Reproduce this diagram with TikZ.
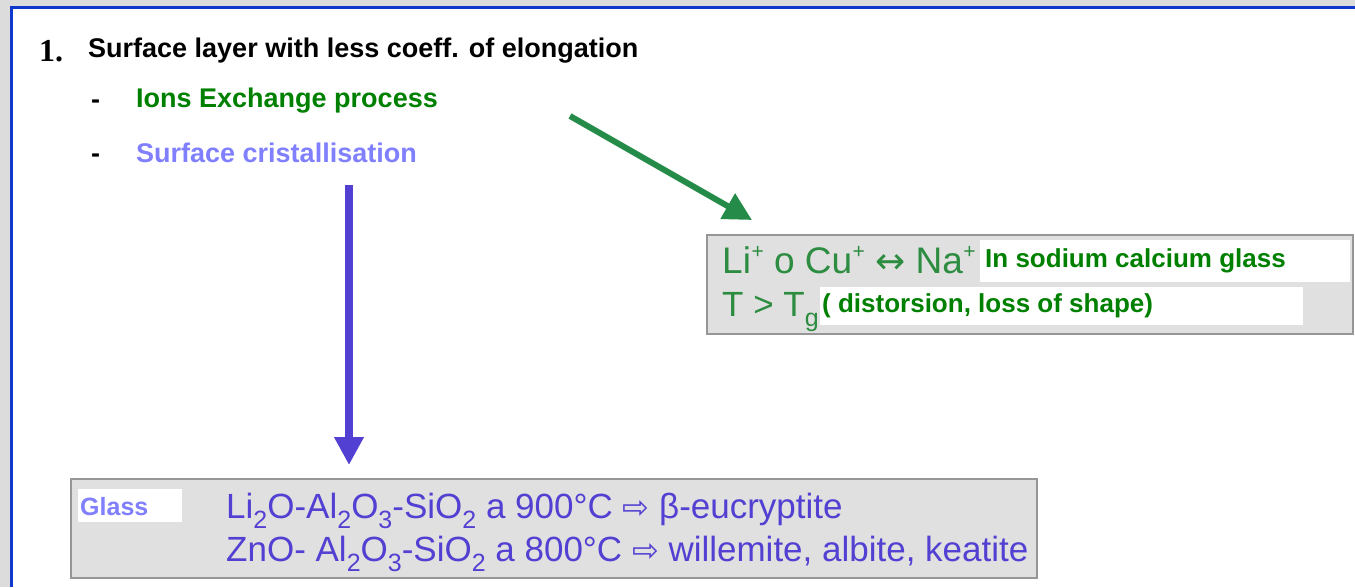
\documentclass[tikz,border=0pt]{standalone}
\usepackage{fontspec}
\setmainfont{Liberation Sans}
\newfontfamily\numfont{Liberation Serif}
\newfontfamily\symfont{DejaVu Sans}
\usetikzlibrary{arrows.meta}
\definecolor{pagegray}{RGB}{220,220,220}
\definecolor{frameblue}{RGB}{16,56,204}
\definecolor{boxgray}{RGB}{224,224,224}
\definecolor{boxline}{RGB}{150,150,150}
\definecolor{ionsgreen}{RGB}{0,128,0}
\definecolor{ionsarrow}{RGB}{36,140,72}
\definecolor{ionstext}{RGB}{44,140,64}
\definecolor{crystlight}{RGB}{128,128,255}
\definecolor{crystdark}{RGB}{82,64,210}
\newcommand\lowi[1]{\raisebox{-.3em}{\fontsize{25}{25}\selectfont #1}}
\newcommand\upi[1]{\kern.5pt\raisebox{.38em}{\fontsize{21}{21}\selectfont #1}}
\begin{document}
\begin{tikzpicture}[x=1pt,y=-1pt,
    txt/.style={anchor=base west,inner sep=0pt},
    head/.style={txt,font=\fontsize{27}{32}\selectfont\bfseries},
    big/.style={txt,font=\fontsize{37}{42}\selectfont},
    box/.style={draw=boxline,fill=boxgray,line width=1.5pt,anchor=north west,inner sep=0pt},
    hilite/.style={fill=white,anchor=north west,inner sep=0pt},
    arrow/.style={-{Triangle[length=28pt,width=28pt]}}]
  \useasboundingbox (0,0) rectangle (1355,587);
  \fill[pagegray] (0,0) rectangle (1355,587);
  \fill[white] (11,7) rectangle (1355,587);
  \draw[frameblue,line width=3pt] (11,587) -- (11,7) -- (1355,7);
  % heading and list
  \node[txt,font=\fontsize{32}{36}\selectfont\numfont\bfseries] (num) at (39,61) {1.};
  \node[head] (title) at (88,57) {Surface layer with less coeff. of elongation};
  \node[head] (dash1) at (91,108) {-};
  \node[head,text=ionsgreen] (ions) at (136,107) {Ions Exchange process};
  \node[head] (dash2) at (91,162) {-};
  \node[head,text=crystlight] (cryst) at (136,162) {Surface cristallisation};
  % ion exchange box
  \node[box,minimum width=646pt,minimum height=99pt] (ionbox) at (706,234) {};
  \node[hilite,minimum width=370pt,minimum height=42pt] (sodiumbg) at (980,240) {};
  \node[hilite,minimum width=483pt,minimum height=38pt] (shapebg) at (820,287) {};
  \node[big,text=ionstext] (exch) at (722,273)
    {Li\upi{+} o Cu\upi{+} {\symfont\fontsize{36}{36}\selectfont ↔} Na\upi{+}};
  \node[head,font=\fontsize{26}{30}\selectfont\bfseries,text=ionsgreen] (sodium) at (985,267)
    {In sodium calcium glass};
  \node[big,font=\fontsize{35}{40}\selectfont,text=ionstext] (temp) at (722,316) {T > T\lowi{g}};
  \node[head,font=\fontsize{26}{30}\selectfont\bfseries,text=ionsgreen] (shape) at (822,312)
    {( distorsion, loss of shape)};
  % crystallisation box
  \node[box,minimum width=966pt,minimum height=99pt] (glassbox) at (70,478) {};
  \node[hilite,minimum width=104pt,minimum height=33pt] (glassbg) at (78,489) {};
  \node[head,font=\fontsize{25}{30}\selectfont\bfseries,text=crystlight] (glass) at (80,515) {Glass};
  \node[txt,font=\fontsize{35}{40}\selectfont,text=crystdark] (euc) at (226,518)
    {Li\lowi{2}O-Al\lowi{2}O\lowi{3}-SiO\lowi{2} a 900°C {\symfont\fontsize{32}{32}\selectfont ⇨} β-eucryptite};
  \node[txt,font=\fontsize{35}{40}\selectfont,text=crystdark] (wil) at (226,561)
    {ZnO- Al\lowi{2}O\lowi{3}-SiO\lowi{2} a 800°C {\symfont\fontsize{32}{32}\selectfont ⇨} willemite, albite, keatite};
  % arrows
  \coordinate (gstart) at (570,116);
  \coordinate (gend) at (752,220);
  \coordinate (bstart) at (349,185);
  \coordinate (bend) at (349,465);
  \draw[arrow,ionsarrow,line width=6pt] (gstart) -- (gend);
  \draw[arrow,crystdark,line width=8pt] (bstart) -- (bend);
\end{tikzpicture}
\end{document}
